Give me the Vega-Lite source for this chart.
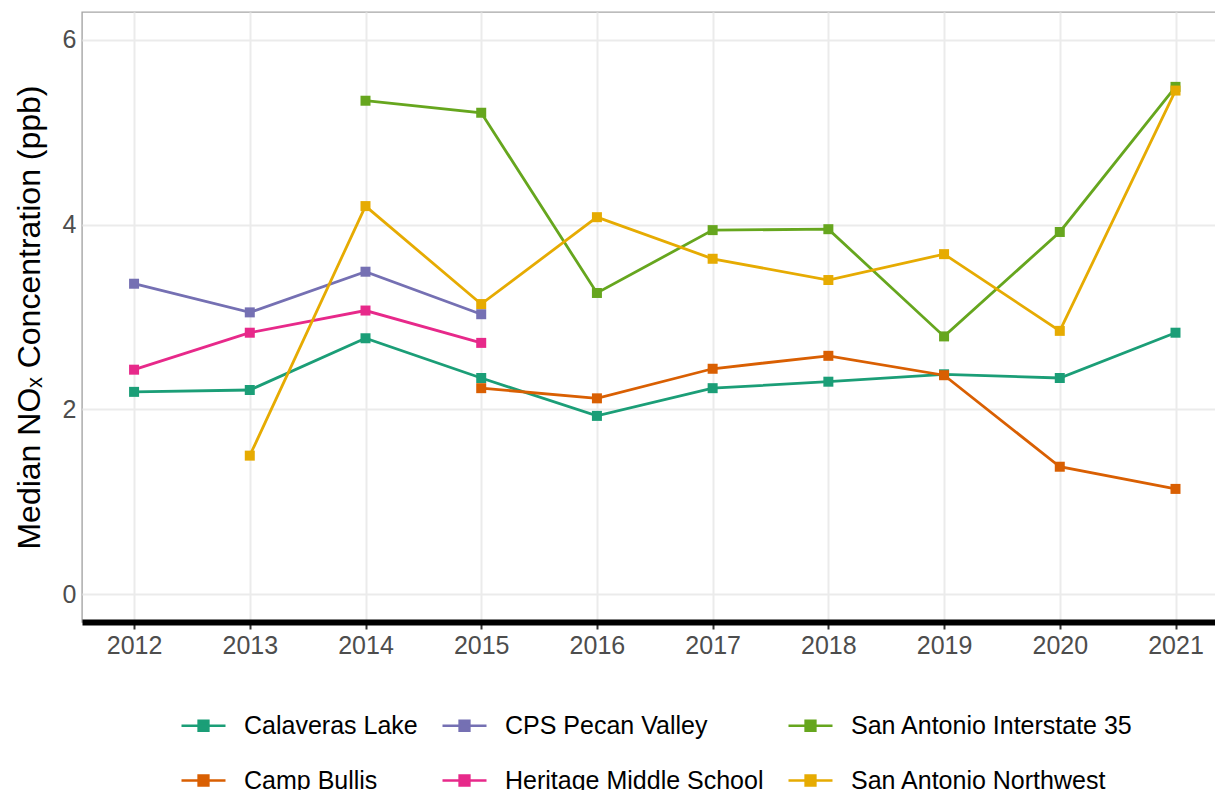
{
  "$schema": "https://vega.github.io/schema/vega-lite/v6.json",
  "width": 1134,
  "height": 610,
  "autosize": {"type": "none"},
  "padding": {"left": 82, "top": 12, "right": 0, "bottom": 168},
  "background": "white",
  "config": {
    "view": {"stroke": "#a6a6a6", "strokeWidth": 1.4},
    "font": "Liberation Sans",
    "axis": {
      "gridColor": "#ebebeb",
      "gridWidth": 2,
      "labelFont": "Liberation Sans",
      "labelFontSize": 25,
      "labelColor": "#4d4d4d",
      "titleFont": "Liberation Sans",
      "titleFontWeight": "normal",
      "titleColor": "black"
    }
  },
  "data": {
    "values": [
      {"site": "Calaveras Lake", "year": 2012, "value": 2.19},
      {"site": "Calaveras Lake", "year": 2013, "value": 2.21},
      {"site": "Calaveras Lake", "year": 2014, "value": 2.77},
      {"site": "Calaveras Lake", "year": 2015, "value": 2.34},
      {"site": "Calaveras Lake", "year": 2016, "value": 1.93},
      {"site": "Calaveras Lake", "year": 2017, "value": 2.23},
      {"site": "Calaveras Lake", "year": 2018, "value": 2.30},
      {"site": "Calaveras Lake", "year": 2019, "value": 2.38},
      {"site": "Calaveras Lake", "year": 2020, "value": 2.34},
      {"site": "Calaveras Lake", "year": 2021, "value": 2.83},
      {"site": "Camp Bullis", "year": 2015, "value": 2.23},
      {"site": "Camp Bullis", "year": 2016, "value": 2.12},
      {"site": "Camp Bullis", "year": 2017, "value": 2.44},
      {"site": "Camp Bullis", "year": 2018, "value": 2.58},
      {"site": "Camp Bullis", "year": 2019, "value": 2.37},
      {"site": "Camp Bullis", "year": 2020, "value": 1.38},
      {"site": "Camp Bullis", "year": 2021, "value": 1.14},
      {"site": "CPS Pecan Valley", "year": 2012, "value": 3.36},
      {"site": "CPS Pecan Valley", "year": 2013, "value": 3.05},
      {"site": "CPS Pecan Valley", "year": 2014, "value": 3.49},
      {"site": "CPS Pecan Valley", "year": 2015, "value": 3.03},
      {"site": "Heritage Middle School", "year": 2012, "value": 2.43},
      {"site": "Heritage Middle School", "year": 2013, "value": 2.83},
      {"site": "Heritage Middle School", "year": 2014, "value": 3.07},
      {"site": "Heritage Middle School", "year": 2015, "value": 2.72},
      {"site": "San Antonio Interstate 35", "year": 2014, "value": 5.34},
      {"site": "San Antonio Interstate 35", "year": 2015, "value": 5.21},
      {"site": "San Antonio Interstate 35", "year": 2016, "value": 3.26},
      {"site": "San Antonio Interstate 35", "year": 2017, "value": 3.94},
      {"site": "San Antonio Interstate 35", "year": 2018, "value": 3.95},
      {"site": "San Antonio Interstate 35", "year": 2019, "value": 2.79},
      {"site": "San Antonio Interstate 35", "year": 2020, "value": 3.92},
      {"site": "San Antonio Interstate 35", "year": 2021, "value": 5.49},
      {"site": "San Antonio Northwest", "year": 2013, "value": 1.50},
      {"site": "San Antonio Northwest", "year": 2014, "value": 4.20},
      {"site": "San Antonio Northwest", "year": 2015, "value": 3.14},
      {"site": "San Antonio Northwest", "year": 2016, "value": 4.08},
      {"site": "San Antonio Northwest", "year": 2017, "value": 3.63},
      {"site": "San Antonio Northwest", "year": 2018, "value": 3.40},
      {"site": "San Antonio Northwest", "year": 2019, "value": 3.68},
      {"site": "San Antonio Northwest", "year": 2020, "value": 2.85},
      {"site": "San Antonio Northwest", "year": 2021, "value": 5.45}
    ]
  },
  "encoding": {
    "x": {
      "field": "year",
      "type": "quantitative",
      "scale": {"domain": [2011.55, 2021.35], "nice": false, "zero": false},
      "axis": {
        "title": null,
        "values": [2012, 2013, 2014, 2015, 2016, 2017, 2018, 2019, 2020, 2021],
        "format": "d",
        "domainColor": "black",
        "domainWidth": 6,
        "tickColor": "#333333",
        "tickWidth": 2,
        "tickSize": 7,
        "labelPadding": 4
      }
    },
    "y": {
      "field": "value",
      "type": "quantitative",
      "scale": {"domain": [-0.3, 6.3], "nice": false, "zero": false},
      "axis": {
        "title": "Median NOₓ Concentration (ppb)",
        "titleFontSize": 32,
        "titlePadding": 16,
        "values": [0, 2, 4, 6],
        "domain": false,
        "ticks": false,
        "labelPadding": 6
      }
    },
    "color": {
      "field": "site",
      "type": "nominal",
      "scale": {
        "domain": ["Calaveras Lake", "CPS Pecan Valley", "San Antonio Interstate 35", "Camp Bullis", "Heritage Middle School", "San Antonio Northwest"],
        "range": ["#1B9E77", "#7570B3", "#66A61E", "#D95F02", "#E7298A", "#E6AB02"]
      },
      "legend": {
        "title": null,
        "orient": "none",
        "legendX": 98,
        "legendY": 690,
        "direction": "horizontal",
        "columns": 3,
        "padding": 0,
        "symbolType": "M-1,0H1M-0.22,-0.22H0.22V0.22H-0.22Z",
        "symbolSize": 1936,
        "symbolStrokeWidth": 2.6,
        "symbolOpacity": 1,
        "labelFont": "Liberation Sans",
        "labelFontSize": 25,
        "labelColor": "black",
        "labelOffset": 17,
        "columnPadding": 19,
        "rowPadding": 18,
        "labelLimit": 400,
        "encode": {
          "symbols": {
            "update": {
              "fill": {"scale": "color", "field": "value"},
              "stroke": {"scale": "color", "field": "value"}
            }
          }
        }
      }
    }
  },
  "layer": [
    {"mark": {"type": "line", "strokeWidth": 2.8}},
    {"mark": {"type": "point", "shape": "square", "filled": true, "size": 100, "opacity": 1}}
  ]
}
